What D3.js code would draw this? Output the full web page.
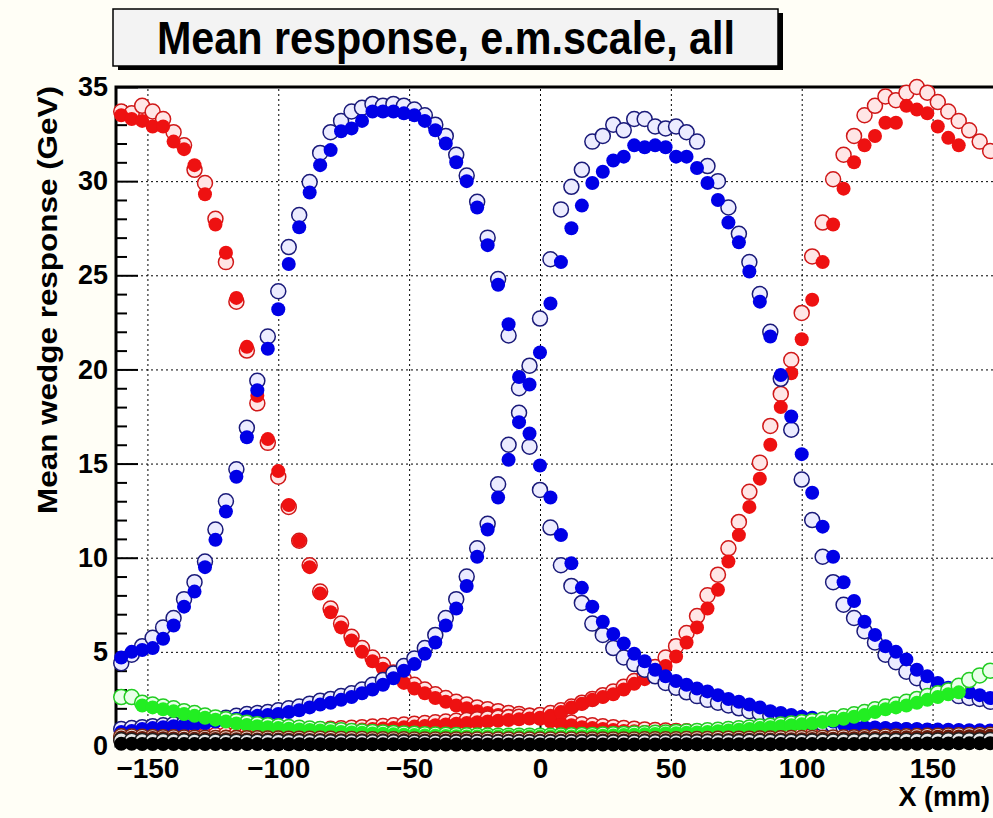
<!DOCTYPE html>
<html>
<head>
<meta charset="utf-8">
<script src="https://cdn.jsdelivr.net/npm/d3@7/dist/d3.min.js"></script>
<style>
  body { margin: 0; background: #fffef6; }
  svg { display: block; }
  text { font-family: "Liberation Sans", Arial, Helvetica, sans-serif; font-weight: bold; fill: #000; }
  .grid line { stroke: #000; stroke-width: 1; stroke-dasharray: 2,3; }
  .grid path { display: none; }
  .axis path { display: none; }
  .axis line { stroke: #000; stroke-width: 2; }
</style>
</head>
<body>
<svg id="chart" width="993" height="818"></svg>
<script>
// beam position (mm), one bin every 4 mm
const xPos = [
  -160,-156,-152,-148,-144,-140,-136,-132,-128,-124,-120,-116,
  -112,-108,-104,-100,-96,-92,-88,-84,-80,-76,-72,-68,
  -64,-60,-56,-52,-48,-44,-40,-36,-32,-28,-24,-20,
  -16,-12,-8,-4,0,4,8,12,16,20,24,28,
  32,36,40,44,48,52,56,60,64,68,72,76,
  80,84,88,92,96,100,104,108,112,116,120,124,
  128,132,136,140,144,148,152,156,160,164,168,172
];

const xTicks = [-150, -100, -50, 0, 50, 100, 150];
const yTicks = [0, 5, 10, 15, 20, 25, 30, 35];

// left red wedge
const redLeftFilled = [
  33.5,33.3,33.2,32.9,32.9,32.1,31.7,30.85,29.3,27.7,26.2,23.8,
  21.2,18.6,16.3,14.6,12.8,10.9,9.5,8.1,7.1,6.3,5.6,5.0,
  4.5,4.1,3.7,3.35,3.05,2.8,2.55,2.35,2.15,2.0,1.85,1.75,
  1.65,1.6,1.55,1.5,1.45,1.3,1.2,1.1,1.0,0.95,0.9,0.85,
  0.8,0.78,0.75,0.72,0.7,0.68,0.66,0.64,0.62,0.6,0.58,0.56,
  0.54,0.52,0.5,0.48,0.46,0.45,0.44,0.43,0.42,0.41,0.4,0.39,
  0.38,0.38,0.37,0.37,0.36,0.36,0.35,0.35,0.35,0.34,0.34,0.34
];
const redLeftOpen = [
  33.7,33.6,34.0,33.7,33.3,32.6,31.9,30.6,29.9,28.0,25.7,23.6,
  21.0,18.2,16.1,14.3,12.7,10.9,9.6,8.2,7.3,6.5,5.8,5.2,
  4.7,4.3,3.9,3.55,3.25,3.0,2.75,2.55,2.35,2.2,2.05,1.95,
  1.85,1.75,1.7,1.6,1.55,1.45,1.35,1.25,1.15,1.1,1.05,1.0,
  0.95,0.92,0.88,0.85,0.82,0.8,0.78,0.76,0.74,0.72,0.7,0.68,
  0.66,0.64,0.62,0.6,0.59,0.58,0.57,0.56,0.55,0.54,0.53,0.52,
  0.51,0.5,0.5,0.49,0.49,0.48,0.48,0.47,0.47,0.46,0.46,0.45
];

// left blue wedge
const blueLeftFilled = [
  4.7,5.0,5.1,5.2,5.7,6.4,7.4,8.2,9.5,10.95,12.45,14.3,
  16.4,18.9,21.1,23.2,25.6,27.55,29.4,30.85,31.65,32.65,32.8,33.2,
  33.7,33.7,33.7,33.6,33.5,33.2,32.7,32.0,31.0,30.0,28.6,26.6,
  24.5,22.4,19.6,16.6,14.9,13.2,11.2,9.7,8.4,7.4,6.6,5.95,
  5.45,4.9,4.5,4.05,3.7,3.45,3.25,3.05,2.9,2.7,2.5,2.35,
  2.2,2.05,1.85,1.75,1.65,1.55,1.5,1.45,1.3,1.15,1.05,1.0,
  0.98,0.95,0.93,0.9,0.9,0.88,0.87,0.86,0.85,0.84,0.83,0.82
];
const blueLeftOpen = [
  4.4,4.85,5.3,5.75,6.3,6.8,7.8,8.7,9.8,11.5,13.0,14.7,
  16.9,19.4,21.75,24.15,26.5,28.2,29.95,31.5,32.6,33.2,33.7,33.9,
  34.1,34.0,34.1,34.0,33.8,33.5,33.0,32.4,31.4,30.3,28.9,27.0,
  24.8,21.8,19.0,15.9,13.6,11.6,9.6,8.5,7.6,6.5,5.9,5.2,
  4.7,4.35,4.05,3.7,3.35,3.1,2.85,2.65,2.45,2.3,2.15,2.0,
  1.85,1.75,1.6,1.5,1.4,1.3,1.25,1.2,1.1,1.0,0.95,0.9,
  0.88,0.86,0.84,0.82,0.8,0.78,0.76,0.75,0.74,0.73,0.72,0.7
];

// right blue wedge
const blueRightFilled = [
  0.75,0.8,0.9,0.95,1.0,1.05,1.1,1.15,1.2,1.3,1.35,1.45,
  1.55,1.6,1.65,1.7,1.8,1.9,2.05,2.2,2.3,2.45,2.6,2.8,
  3.0,3.25,3.6,4.0,4.35,4.9,5.5,6.4,7.3,8.5,10.05,11.5,
  13.2,15.2,17.2,19.2,20.9,23.5,25.7,27.5,28.7,29.9,30.5,31.1,
  31.3,31.9,31.8,31.9,31.8,31.3,31.3,30.7,29.9,29.0,27.8,26.75,
  25.2,23.6,21.75,19.7,17.5,15.5,13.45,11.65,10.05,8.7,7.7,6.6,
  5.9,5.3,5.0,4.6,4.05,3.7,3.35,3.1,2.95,2.85,2.7,2.55
];
const blueRightOpen = [
  0.9,0.95,1.0,1.05,1.1,1.15,1.2,1.25,1.35,1.4,1.5,1.6,
  1.7,1.75,1.8,1.9,2.0,2.1,2.25,2.4,2.5,2.65,2.8,3.0,
  3.25,3.5,3.85,4.25,4.65,5.2,5.9,6.8,7.8,9.0,10.5,11.8,
  13.9,16.0,17.7,20.2,22.7,25.85,28.5,29.7,30.6,32.1,32.4,33.0,
  32.7,33.3,33.3,32.9,32.8,32.9,32.6,32.1,30.8,30.0,28.6,27.2,
  25.7,24.0,22.0,19.5,16.8,14.15,12.0,10.05,8.7,7.5,6.8,6.1,
  5.5,4.85,4.45,3.95,3.6,3.25,3.05,2.85,2.65,2.55,2.5,2.35
];

// right red wedge
const redRightFilled = [
  0.3,0.32,0.33,0.35,0.37,0.39,0.41,0.43,0.45,0.47,0.5,0.52,
  0.55,0.58,0.6,0.63,0.66,0.69,0.72,0.75,0.78,0.81,0.84,0.87,
  0.9,0.93,0.96,1.0,1.03,1.06,1.1,1.14,1.18,1.22,1.26,1.3,
  1.34,1.38,1.42,1.46,1.5,1.6,1.8,2.05,2.25,2.45,2.6,2.75,
  3.0,3.3,3.55,3.85,4.25,4.75,5.5,6.3,7.3,8.3,9.8,11.2,
  12.7,14.2,16.0,18.0,19.8,21.6,23.7,25.7,27.7,29.6,31.0,31.9,
  32.4,33.1,33.1,34.0,33.8,33.6,32.9,32.3,31.9,null,null,null
];
const redRightOpen = [
  0.4,0.42,0.44,0.46,0.48,0.5,0.52,0.54,0.56,0.58,0.61,0.64,
  0.67,0.7,0.73,0.76,0.79,0.82,0.85,0.88,0.91,0.94,0.97,1.0,
  1.03,1.06,1.1,1.14,1.18,1.22,1.26,1.3,1.34,1.38,1.42,1.46,
  1.5,1.53,1.56,1.6,1.65,1.75,1.9,2.1,2.3,2.5,2.7,2.9,
  3.15,3.45,3.8,4.2,4.7,5.3,6.0,6.9,8.0,9.1,10.5,11.9,
  13.5,15.05,17.0,18.7,20.5,23.0,26.0,27.8,30.1,31.4,32.4,33.5,
  34.0,34.5,34.3,34.7,35.0,34.7,34.2,33.7,33.2,32.7,32.1,31.6
];

// green wedge
const greenFilled = [
  null,null,2.15,2.05,1.95,1.85,1.7,1.6,1.5,1.4,1.3,1.2,
  1.12,1.05,1.0,0.95,0.92,0.88,0.85,0.82,0.78,0.75,0.72,0.7,
  0.67,0.65,0.62,0.6,0.58,0.56,0.55,0.53,0.52,0.51,0.5,0.5,
  0.5,0.5,0.5,0.5,0.5,0.5,0.5,0.51,0.52,0.53,0.55,0.56,
  0.58,0.6,0.62,0.64,0.66,0.68,0.7,0.72,0.75,0.78,0.82,0.86,
  0.9,0.95,1.0,1.05,1.1,1.15,1.2,1.27,1.35,1.45,1.55,1.65,
  1.8,1.95,2.05,2.15,2.3,2.45,2.6,2.75,2.85,null,null,null
];
const greenOpen = [
  2.6,2.6,2.3,2.2,2.1,2.0,1.85,1.75,1.62,1.52,1.42,1.32,
  1.24,1.16,1.1,1.05,1.01,0.97,0.93,0.9,0.86,0.83,0.8,0.77,
  0.74,0.72,0.69,0.67,0.65,0.63,0.61,0.6,0.58,0.57,0.56,0.56,
  0.55,0.55,0.55,0.55,0.55,0.55,0.56,0.57,0.58,0.59,0.61,0.62,
  0.64,0.66,0.68,0.7,0.72,0.75,0.77,0.8,0.83,0.86,0.9,0.94,
  0.98,1.03,1.08,1.14,1.2,1.26,1.32,1.4,1.48,1.58,1.68,1.8,
  1.95,2.1,2.2,2.35,2.5,2.65,2.8,2.95,3.2,3.5,3.75,4.0
];

// remaining wedges, close to zero
const maroonFilled = [
  0.45,0.44,0.43,0.42,0.41,0.4,0.39,0.38,0.38,0.37,0.36,0.36,
  0.35,0.35,0.34,0.34,0.33,0.33,0.32,0.32,0.32,0.31,0.31,0.31,
  0.3,0.3,0.3,0.3,0.29,0.29,0.29,0.29,0.29,0.29,0.28,0.28,
  0.28,0.28,0.28,0.28,0.28,0.28,0.28,0.28,0.29,0.29,0.29,0.29,
  0.29,0.29,0.3,0.3,0.3,0.3,0.31,0.31,0.31,0.32,0.32,0.33,
  0.33,0.34,0.34,0.35,0.36,0.36,0.37,0.38,0.39,0.4,0.41,0.42,
  0.43,0.44,0.45,0.46,0.47,0.48,0.49,0.5,0.51,0.52,0.53,0.54
];
const maroonOpen = [
  0.52,0.5,0.49,0.48,0.47,0.46,0.45,0.44,0.44,0.43,0.42,0.42,
  0.41,0.41,0.4,0.4,0.39,0.39,0.38,0.38,0.38,0.37,0.37,0.37,
  0.36,0.36,0.36,0.36,0.35,0.35,0.35,0.35,0.35,0.35,0.34,0.34,
  0.34,0.34,0.34,0.34,0.34,0.34,0.34,0.34,0.35,0.35,0.35,0.35,
  0.35,0.35,0.36,0.36,0.36,0.36,0.37,0.37,0.37,0.38,0.38,0.39,
  0.39,0.4,0.4,0.41,0.42,0.42,0.43,0.44,0.45,0.46,0.47,0.48,
  0.49,0.5,0.51,0.52,0.53,0.54,0.55,0.56,0.57,0.58,0.59,0.6
];
const blackFilled = [
  0.12,0.12,0.11,0.11,0.11,0.1,0.1,0.1,0.1,0.1,0.1,0.1,
  0.1,0.1,0.09,0.09,0.09,0.09,0.09,0.09,0.09,0.09,0.09,0.09,
  0.09,0.09,0.09,0.09,0.09,0.09,0.08,0.08,0.08,0.08,0.08,0.08,
  0.08,0.08,0.08,0.08,0.08,0.08,0.08,0.08,0.08,0.08,0.08,0.08,
  0.08,0.08,0.08,0.08,0.09,0.09,0.09,0.09,0.09,0.09,0.09,0.09,
  0.09,0.09,0.09,0.1,0.1,0.1,0.1,0.1,0.1,0.11,0.11,0.11,
  0.11,0.12,0.12,0.12,0.12,0.13,0.13,0.13,0.14,0.14,0.14,0.15
];
const blackOpen = [
  0.3,0.28,0.27,0.26,0.26,0.25,0.25,0.24,0.24,0.24,0.23,0.23,
  0.23,0.22,0.22,0.22,0.21,0.21,0.21,0.21,0.2,0.2,0.2,0.2,
  0.2,0.2,0.2,0.19,0.19,0.19,0.19,0.19,0.19,0.19,0.19,0.19,
  0.19,0.19,0.19,0.19,0.19,0.19,0.19,0.19,0.19,0.19,0.19,0.19,
  0.19,0.19,0.2,0.2,0.2,0.2,0.2,0.2,0.21,0.21,0.21,0.21,
  0.22,0.22,0.22,0.23,0.23,0.23,0.24,0.24,0.24,0.25,0.25,0.26,
  0.26,0.27,0.27,0.28,0.28,0.29,0.29,0.3,0.3,0.31,0.31,0.32
];

// drawing order: first drawn ends up underneath
const series = [
  { values: redLeftOpen,     color: "#d01818", tint: "#ffe6e6", open: true },
  { values: redLeftFilled,   color: "#ee1111", open: false },
  { values: redRightOpen,    color: "#d01818", tint: "#ffe6e6", open: true },
  { values: redRightFilled,  color: "#ee1111", open: false },
  { values: blueLeftOpen,    color: "#1a1a7a", tint: "#ececff", open: true },
  { values: blueLeftFilled,  color: "#0000e6", open: false },
  { values: blueRightOpen,   color: "#1a1a7a", tint: "#ececff", open: true },
  { values: blueRightFilled, color: "#0000e6", open: false },
  { values: greenOpen,       color: "#22cc22", tint: "#eaffea", open: true },
  { values: greenFilled,     color: "#22ee22", open: false },
  { values: maroonOpen,      color: "#7a2a10", tint: "#f4e4dc", open: true },
  { values: maroonFilled,    color: "#6a1a0a", open: false },
  { values: blackOpen,       color: "#202020", tint: "#e8e8e8", open: true },
  { values: blackFilled,     color: "#000000", open: false }
];

const plotLeft = 116, plotTop = 87, plotBottom = 746, plotRight = 998;

const x = d3.scaleLinear().domain([-162, 175]).range([plotLeft, plotRight]);
const y = d3.scaleLinear().domain([0, 35]).range([plotBottom, plotTop]);

const svg = d3.select("#chart");

// Title box with shadow
svg.append("rect")
  .attr("x", 118).attr("y", 13).attr("width", 665).attr("height", 57)
  .attr("fill", "#000");
svg.append("rect")
  .attr("x", 113).attr("y", 9).attr("width", 665).attr("height", 57)
  .attr("fill", "#f3f3f3").attr("stroke", "#000").attr("stroke-width", 1.5);
svg.append("text")
  .attr("x", 446).attr("y", 54)
  .attr("text-anchor", "middle")
  .attr("font-size", 46)
  .attr("textLength", 578)
  .attr("lengthAdjust", "spacingAndGlyphs")
  .text("Mean response, e.m.scale, all");

// Plot area
svg.append("rect")
  .attr("x", plotLeft).attr("y", plotTop)
  .attr("width", plotRight - plotLeft).attr("height", plotBottom - plotTop)
  .attr("fill", "#fff");

// Dotted grid
svg.append("g").attr("class", "grid")
  .attr("transform", `translate(0,${plotBottom})`)
  .call(d3.axisBottom(x).tickValues(xTicks).tickSize(-(plotBottom - plotTop)).tickFormat(""));
svg.append("g").attr("class", "grid")
  .attr("transform", `translate(${plotLeft},0)`)
  .call(d3.axisLeft(y).tickValues(yTicks.filter(d => d > 0 && d < 35)).tickSize(-(plotRight - plotLeft)).tickFormat(""));

// Minor ticks
const xMinor = d3.range(-160, 175, 10).filter(d => xTicks.indexOf(d) < 0);
const yMinor = d3.range(1, 35, 1).filter(d => d % 5 !== 0);
svg.append("g").attr("class", "axis")
  .attr("transform", `translate(0,${plotBottom})`)
  .call(d3.axisBottom(x).tickValues(xMinor).tickSize(-11).tickFormat(""));
svg.append("g").attr("class", "axis")
  .attr("transform", `translate(${plotLeft},0)`)
  .call(d3.axisLeft(y).tickValues(yMinor).tickSize(-11).tickFormat(""));

// Major ticks and labels
const xAxis = svg.append("g").attr("class", "axis")
  .attr("transform", `translate(0,${plotBottom})`)
  .call(d3.axisBottom(x).tickValues(xTicks).tickSize(-22).tickPadding(12));
xAxis.selectAll("text").attr("font-size", 28).attr("dy", "0.71em").attr("font-family", null);

const yAxis = svg.append("g").attr("class", "axis")
  .attr("transform", `translate(${plotLeft},0)`)
  .call(d3.axisLeft(y).tickValues(yTicks).tickSize(-22).tickPadding(8));
yAxis.selectAll("text").attr("font-size", 27).attr("font-family", null);

// Frame
svg.append("rect")
  .attr("x", plotLeft).attr("y", plotTop)
  .attr("width", plotRight - plotLeft).attr("height", plotBottom - plotTop)
  .attr("fill", "none").attr("stroke", "#000").attr("stroke-width", 3);

// Markers
const points = svg.append("g");
series.forEach(s => {
  const pts = xPos.map((xv, i) => ({ x: xv, v: s.values[i] })).filter(d => d.v !== null);
  points.append("g")
    .selectAll("circle")
    .data(pts)
    .join("circle")
    .attr("cx", d => x(d.x))
    .attr("cy", d => y(d.v))
    .attr("r", s.open ? 7.5 : 7)
    .attr("fill", s.open ? s.tint : s.color)
    .attr("stroke", s.open ? s.color : "none")
    .attr("stroke-width", 1.5);
});

// Axis titles
svg.append("text")
  .attr("transform", "translate(57,300) rotate(-90)")
  .attr("text-anchor", "middle")
  .attr("font-size", 27)
  .attr("textLength", 428)
  .attr("lengthAdjust", "spacingAndGlyphs")
  .text("Mean wedge response (GeV)");

svg.append("text")
  .attr("x", 990).attr("y", 806)
  .attr("text-anchor", "end")
  .attr("font-size", 27)
  .text("X (mm)");
</script>
</body>
</html>
